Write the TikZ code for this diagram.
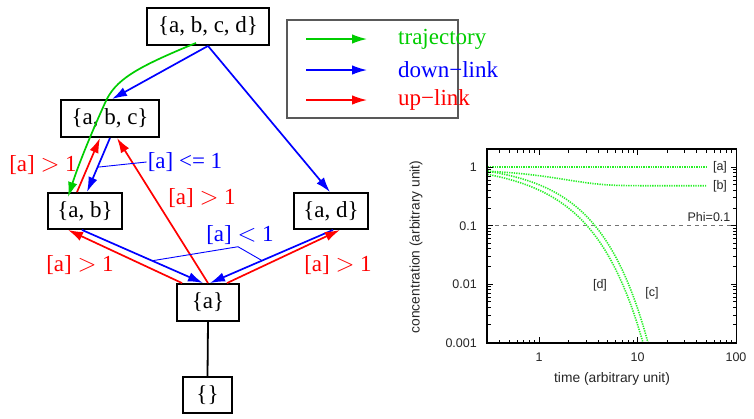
\documentclass[tikz,border=0pt]{standalone}
\usepackage{fontspec}
\setmainfont{Liberation Serif}
\newfontfamily\plotfont{Liberation Sans}
\usetikzlibrary{arrows.meta,calc}
\definecolor{gvgreen}{RGB}{0,205,0}
\definecolor{gpgreen}{RGB}{40,240,40}
\definecolor{gvblue}{RGB}{0,0,255}
\definecolor{gvred}{RGB}{255,0,0}
\begin{document}
\begin{tikzpicture}[x=1pt,y=-1pt,
  setbox/.style={draw, line width=1.9pt, minimum height=37pt, inner sep=0pt,
    font=\fontsize{23}{26}\selectfont},
  lbl/.style={inner sep=0pt, font=\fontsize{23}{26}\selectfont},
  arr/.style={line width=1.7pt, -{Latex[length=15pt,width=9.5pt]}},
  pointer/.style={line width=0.9pt, gvblue},
  tick/.style={line width=0.8pt},
  ptxt/.style={inner sep=0pt, font=\plotfont\fontsize{12.5}{14}\selectfont, text=black!85},
  alab/.style={inner sep=0pt, font=\plotfont\fontsize{13.8}{16}\selectfont, text=black!85},
  curve/.style={gpgreen, line width=1.6pt, dash pattern=on 1.3pt off 1.1pt}
]
\useasboundingbox (0,0) rectangle (754,418);

% ---------- nodes ----------
\node[setbox, minimum width=122pt] (abcd) at (208,26.5) {\{a, b, c, d\}};
\node[setbox, minimum width=98pt] (abc) at (110,118.5) {\{a, b, c\}};
\node[setbox, minimum width=74pt, minimum height=36pt] (ab) at (85,211) {\{a, b\}};
\node[setbox, minimum width=74pt, minimum height=36pt] (ad) at (331,211) {\{a, d\}};
\node[setbox, minimum width=62pt] (a) at (208,302.5) {\{a\}};
\node[setbox, minimum width=49pt, minimum height=36pt] (e) at (207.5,395) {\{\}};

% ---------- edges ----------
\draw[arr, gvblue] (abcd.south) -- ($(abc.north)+(2,0)$);
\draw[arr, gvblue] (abcd.south) -- ($(ad.north)+(-1,0)$);
\draw[arr, gvgreen] ($(abcd.south)+(-12,-3)$) .. controls (135,68) and (115,80) .. (105,103)
   .. controls (95,125) and (80,160) .. ($(ab.north)+(-17,5)$);
\draw[arr, gvred] ($(ab.north)+(-8,0)$) -- ($(abc.south)+(-10,0)$);
\draw[arr, gvblue] (abc.south) -- ($(ab.north)+(2,0)$) coordinate[pos=0.54] (p1);
\draw[arr, gvred] (a.north) -- ($(abc.south)+(7,0)$);
\draw[arr, gvred] ($(a.north)+(-26,0)$) -- ($(ab.south)+(-17,0)$);
\draw[arr, gvblue] ($(ab.south)+(-3,0)$) -- ($(a.north)+(-5,0)$) coordinate[pos=0.58] (p2);
\draw[arr, gvblue] ($(ad.south)+(2,0)$) -- ($(a.north)+(2,0)$) coordinate[pos=0.577] (p3);
\draw[arr, gvred] ($(a.north)+(19,0)$) -- ($(ad.south)+(9,0)$);
\draw[line width=1.8pt] (a.south) -- (e.north);

% ---------- edge labels ----------
\node[lbl, text=gvred] (l1) at (43,165) {[a] $>$ 1};
\node[lbl, text=gvblue] (l2) at (185,162) {[a] <= 1};
\node[lbl, text=gvred] (l3) at (202,198) {[a] $>$ 1};
\node[lbl, text=gvblue] (l4) at (240,235) {[a] $<$ 1};
\node[lbl, text=gvred] (l5) at (80,265) {[a] $>$ 1};
\node[lbl, text=gvred] (l6) at (338,265) {[a] $>$ 1};
\draw[pointer] ($(l2.west)+(-1,0)$) -- (p1);
\draw[pointer] (p2) -- ($(l4.south)+(-2,2)$) -- (p3);

% ---------- legend ----------
\node[draw=black!65, line width=1.5pt, minimum width=171pt, minimum height=98pt, inner sep=0pt] (leg) at (372.5,69) {};
\coordinate (g1) at (306,39); \coordinate (g2) at (367,39);
\coordinate (b1) at (306,70); \coordinate (b2) at (367,70);
\coordinate (r1) at (306,100); \coordinate (r2) at (367,100);
\draw[arr, gvgreen, line width=1.4pt] (g1) -- (g2);
\draw[arr, gvblue, line width=1.4pt] (b1) -- (b2);
\draw[arr, gvred, line width=1.4pt] (r1) -- (r2);
\node[lbl, text=gvgreen, anchor=west] (t1) at (398,39) {trajectory};
\node[lbl, text=gvblue, anchor=west] (t2) at (398,70) {down\textminus link};
\node[lbl, text=gvred, anchor=west] (t3) at (398,100) {up\textminus link};

% ---------- plot ----------
% x pixel = 539 + 98.5*log10(t);  y pixel = 167 - 58.7*log10(c)
\draw[black!55, line width=1pt, dash pattern=on 4pt off 4pt] (487,225.7) -- (736.5,225.7);
\draw[curve] plot[domain=-0.523:1.699, samples=2] ({539+98.5*\x},167);
\draw[curve] plot[domain=-0.523:1.699, samples=120]
  ({539+98.5*\x},{167-58.7*log10(0.48+0.45*exp(-min(pow(10,\x)/1.5,20)))});
\draw[curve] plot[domain=-0.523:1.1072, samples=120]
  ({539+98.5*\x},{167-58.7*(0.1148-0.1759*pow(10,\x)-0.241*sqrt(pow(10,\x)))});
\draw[curve] plot[domain=-0.523:1.0569, samples=120]
  ({539+98.5*\x},{167-58.7*(0.1017-0.1785*pow(10,\x)-0.3161*sqrt(pow(10,\x)))});

% ticks
\foreach \u in {0,1} {
  \draw[tick] ({539+98.5*\u},343) -- ++(0,-6);
  \draw[tick] ({539+98.5*\u},149) -- ++(0,6);
}
\foreach \m in {0.3,0.4,0.5,0.6,0.7,0.8,0.9,2,3,4,5,6,7,8,9,20,30,40,50,60,70,80,90} {
  \draw[tick] ({539+98.5*log10(\m)},343) -- ++(0,-3.5);
  \draw[tick] ({539+98.5*log10(\m)},149) -- ++(0,3.5);
}
\foreach \v in {0,-1,-2} {
  \draw[tick] (487,{167-58.7*\v}) -- ++(6,0);
  \draw[tick] (736.5,{167-58.7*\v}) -- ++(-6,0);
}
\foreach \m in {0.002,0.003,0.004,0.005,0.006,0.007,0.008,0.009,0.02,0.03,0.04,0.05,0.06,0.07,0.08,0.09,0.2,0.3,0.4,0.5,0.6,0.7,0.8,0.9,2} {
  \draw[tick] (487,{167-58.7*log10(\m)}) -- ++(3.5,0);
  \draw[tick] (736.5,{167-58.7*log10(\m)}) -- ++(-3.5,0);
}
\draw[line width=1.2pt] (487,149) rectangle (736.5,343);

% tick labels
\node[ptxt] (x1) at (539,357) {1};
\node[ptxt] (x2) at (637.5,357) {10};
\node[ptxt] (x3) at (736,357) {100};
\node[ptxt, anchor=east] (y1) at (477,167) {1};
\node[ptxt, anchor=east] (y2) at (477,225.7) {0.1};
\node[ptxt, anchor=east] (y3) at (477,284.4) {0.01};
\node[ptxt, anchor=east] (y4) at (477,343) {0.001};
\node[alab] (xl) at (612,379) {time (arbitrary unit)};
\node[alab, rotate=90] (yl) at (416,247) {concentration (arbitrary unit)};

% curve labels
\node[ptxt] (ca) at (720,167) {[a]};
\node[ptxt] (cb) at (720,186) {[b]};
\node[ptxt] (phi) at (709,217) {Phi=0.1};
\node[ptxt] (cd) at (600,285) {[d]};
\node[ptxt] (cc) at (652,293) {[c]};
\end{tikzpicture}
\end{document}
